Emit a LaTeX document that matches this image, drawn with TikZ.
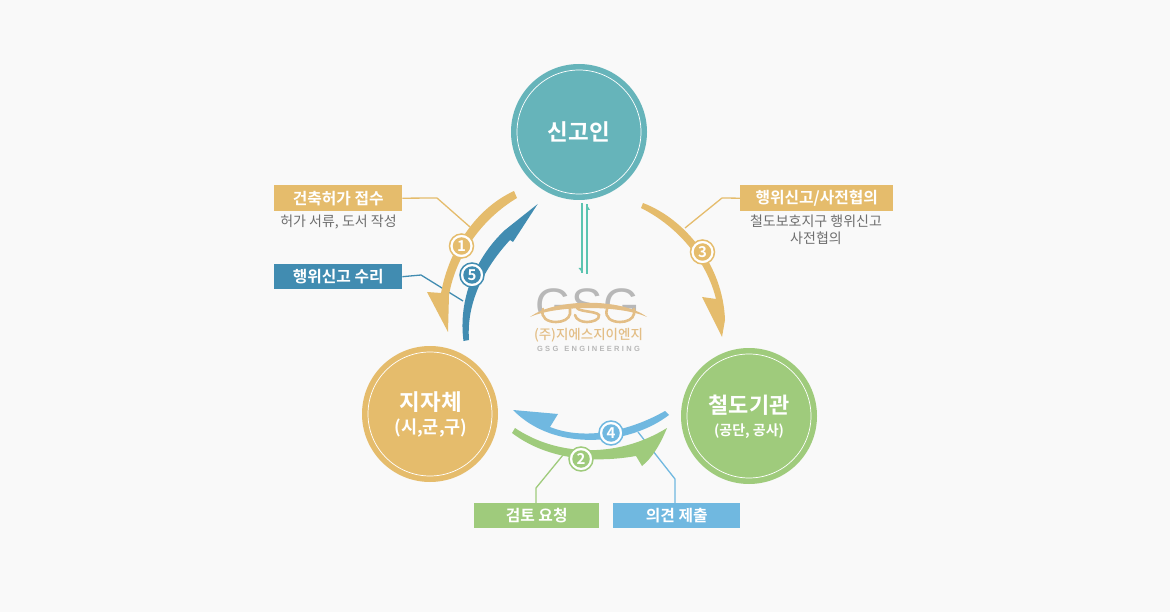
\documentclass[tikz,border=0pt]{standalone}
\usepackage{fontspec}
\setmainfont{Noto Sans CJK KR}
\newfontfamily\krbold{Noto Sans CJK KR Bold}
\newfontfamily\krmed{Noto Sans CJK KR Medium}
\newfontfamily\logofont{Liberation Sans}
\definecolor{bgc}{HTML}{F9F9F9}
\definecolor{teal1}{HTML}{66B4BA}
\definecolor{gold1}{HTML}{E5BC6C}
\definecolor{green1}{HTML}{9FCB7C}
\definecolor{blue1}{HTML}{418CB1}
\definecolor{sky1}{HTML}{70B8E0}
\definecolor{mint1}{HTML}{5BC4B0}
\definecolor{grayt}{HTML}{6E6E6E}
\definecolor{logogray}{HTML}{B8B8B8}
\definecolor{logogold}{HTML}{E3BE86}
\tikzset{
  x=1pt,y=-1pt,
  actor/.style={circle,minimum size=136pt,inner sep=0pt,fill=#1,text=white,align=center},
  ringc/.style={draw=white,line width=.7pt},
  tag/.style={rectangle,inner sep=0pt,fill=#1,text=white,font=\krbold\fontsize{15.8}{18}\selectfont,anchor=north west},
  sub/.style={text=grayt,font=\fontsize{14}{17}\selectfont,align=center,inner sep=0pt},
  lead/.style={draw=#1,line width=1.3pt},
  badge/.style={circle,minimum size=24pt,inner sep=0pt,fill=white,draw=#1,line width=1.5pt,text=white},
  badgein/.style={circle,minimum size=17.5pt,inner sep=0pt,fill=#1,text=white,font=\krbold\fontsize{15}{15}\selectfont},
  logostroke/.style={draw=logogold,line width=2.6pt,line cap=round},
}
\begin{document}
\begin{tikzpicture}
\useasboundingbox (0,0) rectangle (1170,612);
\fill[bgc] (0,0) rectangle (1170,612);

% big circles
\node[actor=teal1] (sing) at (579,132) {};
\draw[ringc] (sing.center) circle (62);
\node[text=white,font=\krbold\fontsize{22.5}{24}\selectfont] (singt) at (579,132) {신고인};
\node[actor=gold1] (jija) at (430,414) {};
\draw[ringc] (jija.center) circle (62);
\node[text=white,font=\krbold\fontsize{22.5}{24}\selectfont] (jijat) at (431,402) {지자체};
\node[text=white,font=\krbold\fontsize{17.5}{20}\selectfont] (jijas) at (431,428) {(시,군,구)};
\node[actor=green1] (cheol) at (749,416) {};
\draw[ringc] (cheol.center) circle (62);
\node[text=white,font=\krbold\fontsize{22}{24}\selectfont] (cheolt) at (749,405) {철도기관};
\node[text=white,font=\krbold\fontsize{14}{16}\selectfont] (cheols) at (749,431) {(공단, 공사)};

% label boxes
\node[tag=gold1,minimum width=128pt,minimum height=26pt] (t1) at (274,185) {건축허가 접수};
\node[sub] (s1) at (338.5,222) {허가 서류, 도서 작성};
\node[tag=blue1,minimum width=128pt,minimum height=25pt] (t5) at (274,264) {행위신고 수리};
\node[tag=gold1,minimum width=153pt,minimum height=26pt] (t3) at (740,185) {행위신고/사전협의};
\node[sub] (s3) at (816,230) {철도보호지구 행위신고\\사전협의};
\node[tag=green1,minimum width=125pt,minimum height=25pt] (t2) at (474,503) {검토 요청};
\node[tag=sky1,minimum width=127pt,minimum height=25pt] (t4) at (613,503) {의견 제출};

% leader ends
\coordinate (e1) at (470,227);
\coordinate (e5) at (463,301);
\coordinate (e3) at (685,228);
\coordinate (e2) at (563,455);
\coordinate (e4) at (638,432);
\draw[lead=gold1] (t1.east) -- (437,198) -- (e1);
\draw[lead=blue1] (t5.east) -- (421,275) -- (e5);
\draw[lead=gold1] (t3.west) -- (722,198) -- (e3);
\draw[lead=green1] (t2.north -| 536,0) -- (536,488) -- (e2);
\draw[lead=sky1] (t4.north -| 675,0) -- (675,479) -- (e4);

% arrows
\fill[gold1] (514,191) .. controls (475,209) and (449,250) .. (441,293)
  -- (427,292) -- (448,332) -- (449,295)
  .. controls (456,255) and (482,219) .. (517,198) -- cycle;
\fill[blue1] (463.5,341) .. controls (458,300) and (475,258) .. (505,230)
  -- (537.7,204) -- (513,242) -- (510,240)
  .. controls (487,265) and (466,300) .. (469,340) -- cycle;
\fill[gold1] (643,203) .. controls (685,219) and (723,265) .. (725,320)
  -- (722,337) -- (702,297) -- (716,299)
  .. controls (707,262) and (679,227) .. (641,208) -- cycle;
\fill[sky1] (513,410) -- (558,414) -- (550,427)
  .. controls (585,441) and (630,431) .. (665,411) -- (669,415)
  .. controls (630,445) and (555,453) .. (513,410) -- cycle;
\fill[green1] (515,428) .. controls (555,455) and (615,460) .. (667,428)
  .. controls (660,445) and (652,458) .. (642,466) -- (636,456)
  .. controls (590,464) and (545,458) .. (512,433) -- cycle;

% badges
\foreach \nm/\cc/\px/\py/\dd in {a/gold1/461.5/246/1,b/blue1/472/275/5,c/gold1/702.5/252/3,d/green1/581/459/2,e/sky1/611/433/4}{
  \node[badge=\cc] (o\nm) at (\px,\py) {};
  \node[badgein=\cc] (i\nm) at (\px,\py) {\dd};
}

% centre half arrows
\coordinate (m1) at (582,203);
\coordinate (m2) at (582,273);
\coordinate (m3) at (587,274);
\coordinate (m4) at (587,204);
\draw[mint1,line width=1.3pt] (m1) -- (m2);
\fill[mint1] (582.6,273) -- (578.5,268) -- (582.6,268) -- cycle;
\draw[mint1,line width=1.3pt] (m3) -- (m4);
\fill[mint1] (586.4,204) -- (590,210) -- (586.4,210) -- cycle;

% logo: grey letter tops, gold bowls under the arc
\begin{scope}
  \clip (530,282) rectangle (647,317) (647,282);
  \clip (530,282) -- (647,282) -- (647,317) .. controls (622,298) and (555,298) .. (530,317) -- cycle;
  \node[text=logogray,inner sep=0pt,anchor=base,font=\logofont\fontsize{47}{47}\selectfont] (gsg) at (587.5,322) {GSG};
\end{scope}
\draw[logostroke] (543,309) .. controls (540,318) and (548,322) .. (556,322) .. controls (563,322) and (569,319) .. (570,314) -- (570,309);
\draw[logostroke] (577,308) .. controls (580,312) and (596,311) .. (599,315) .. controls (600,320) and (592,322) .. (587,322) .. controls (582,322) and (576,320) .. (575,315);
\draw[logostroke] (607,309) .. controls (604,318) and (612,322) .. (620,322) .. controls (627,322) and (633,319) .. (634,314) -- (634,309);
\fill[logogold] (530,317) .. controls (555,298) and (622,298) .. (647,317)
  .. controls (620,305) and (557,305) .. (530,317) -- cycle;
\node[text=logogold,font=\krmed\fontsize{13.5}{14}\selectfont,inner sep=0pt] (lk) at (588.5,335.5) {(주)지에스지이엔지};
\node[text=logogray,font=\logofont\bfseries\fontsize{7.5}{8}\selectfont,inner sep=0pt] (le) at (588.5,348.5) {G\kern2.3pt S\kern2.3pt G\kern6pt E\kern2.3pt N\kern2.3pt G\kern2.3pt I\kern2.3pt N\kern2.3pt E\kern2.3pt E\kern2.3pt R\kern2.3pt I\kern2.3pt N\kern2.3pt G};
\end{tikzpicture}
\end{document}
